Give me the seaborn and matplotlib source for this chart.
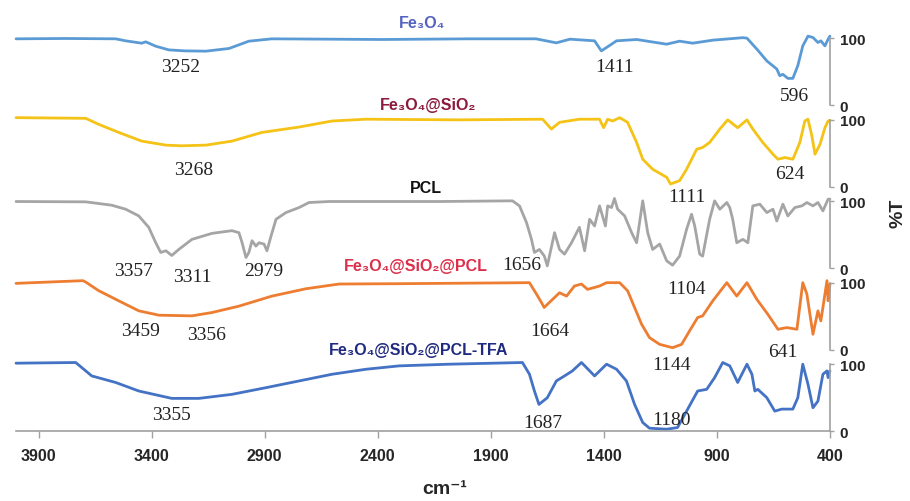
import matplotlib
matplotlib.use("Agg")

import matplotlib.pyplot as plt
import seaborn as sns

# ---------------------------------------------------------------------------
# FTIR data (wavenumber in cm-1, %T)
# ---------------------------------------------------------------------------

fe3o4_wn = [4000, 3780, 3559, 3515, 3444, 3426, 3382, 3324, 3252, 3160, 3058, 2970, 2868,
            2380, 2000, 1700, 1610, 1550, 1441, 1411, 1366, 1344, 1255, 1122, 1065, 1007,
            918, 785, 767, 723, 679, 635, 622, 608, 586, 564, 542, 520, 497, 475, 453,
            440, 422, 408, 400]
fe3o4_t = [99, 99.5, 99, 96, 92.5, 94.5, 88, 82.5, 81, 80.6, 84.6, 95.5, 99,
           98, 99, 99, 93, 98.5, 96, 81, 91, 96, 98, 91, 95.5, 92.5,
           97, 100.7, 100, 83.6, 66, 54, 44, 46, 40, 40, 59, 88.5, 103, 101, 93.5,
           96, 88.5, 98.5, 103]

sio2_wn = [4000, 3692, 3634, 3546, 3444, 3337, 3268, 3160, 3045, 2912, 2748, 2602, 2451,
           2039, 1671, 1632, 1596, 1508, 1419, 1401, 1383, 1361, 1330, 1295, 1255, 1228,
           1184, 1122, 1105, 1065, 1034, 989, 963, 932, 887, 852, 808, 767, 741, 697,
           652, 630, 599, 564, 533, 511, 497, 480, 466, 444, 422, 408, 400]
sio2_t = [103, 102, 93, 81, 68, 62, 61, 62, 68, 81, 89, 98, 100.7,
          99.7, 100.7, 86, 96, 100.7, 100.7, 88, 100.7, 98, 103, 96, 66, 41,
          26, 14, 4, 9, 26, 56, 58.5, 66, 86, 99.7, 88, 99.7, 86, 66,
          48.5, 41, 43.5, 41, 66, 98, 100.7, 76, 48.5, 63, 88, 98, 99]

pcl_wn = [4000, 3692, 3577, 3515, 3457, 3413, 3382, 3360, 3337, 3311, 3280, 3222, 3133,
          3045, 3014, 3000, 2983, 2970, 2956, 2939, 2925, 2903, 2890, 2872, 2850, 2806,
          2748, 2704, 2615, 2128, 1804, 1773, 1742, 1720, 1707, 1685, 1663, 1650, 1618,
          1596, 1574, 1543, 1508, 1485, 1463, 1441, 1419, 1393, 1383, 1366, 1353, 1339,
          1308, 1277, 1255, 1228, 1206, 1184, 1153, 1122, 1096, 1065, 1034, 1012, 998,
          976, 963, 932, 910, 887, 856, 843, 830, 812, 785, 763, 741, 710, 679, 652,
          635, 608, 586, 555, 524, 502, 475, 453, 431, 408, 400]
pcl_t = [99.5, 99, 94, 88, 78, 61, 38, 23.5, 26, 19, 28, 43, 52,
         56, 53, 38, 16, 23.5, 41, 33, 38, 36, 26, 48, 73, 83,
         90.5, 98, 99.5, 99.5, 100.5, 93, 68, 43, 23.5, 28, 18, 3.5, 53,
         28, 21, 38, 61, 26, 73, 63, 93, 63, 93, 90.5, 104, 88,
         78, 53, 38, 100.5, 53, 28, 36, 11, 4.5, 18, 58, 80.5, 63,
         21, 18, 73, 100.5, 88, 98, 90.5, 73, 38, 43, 38, 93, 95.5, 83, 88,
         70.5, 95.5, 78, 90.5, 93, 98, 93, 98, 85.5, 103, 103]

pcl_comp_wn = [4000, 3705, 3692, 3634, 3546, 3457, 3368, 3222, 3133, 3014, 2868, 2717, 2571,
               2305, 1729, 1698, 1676, 1664, 1627, 1596, 1565, 1530, 1499, 1472, 1419, 1388,
               1330, 1295, 1264, 1233, 1198, 1153, 1096, 1056, 1021, 985, 963, 918, 856,
               812, 767, 723, 675, 630, 591, 546, 520, 502, 475, 453, 440, 422, 413, 408,
               400]
pcl_comp_t = [99, 103, 101, 88, 73, 58, 51.5, 50.5, 55.5, 65, 80, 91, 98,
              98.5, 100, 83, 70.5, 63, 75, 85, 80, 95, 98, 90, 95, 100,
              100, 88, 63, 38, 18, 8, 3, 8, 28, 48, 50.5, 73, 100,
              80, 100, 75, 53, 30.5, 33, 30.5, 100, 83, 23, 58, 43, 83, 103, 73,
              98]

tfa_wn = [4000, 3736, 3665, 3559, 3457, 3311, 3191, 3045, 2894, 2748, 2602, 2451, 2305,
          2083, 1760, 1729, 1707, 1687, 1650, 1610, 1574, 1539, 1499, 1477, 1441, 1388,
          1344, 1300, 1264, 1228, 1198, 1122, 1074, 1034, 985, 945, 910, 874, 843, 808,
          767, 745, 732, 719, 679, 644, 613, 564, 542, 520, 497, 475, 453, 431, 413,
          408, 400]
tfa_t = [101.5, 102.5, 82.5, 72.7, 60, 49, 49, 55, 65, 75, 85, 92.5, 97.5,
         100, 102.5, 85, 60, 40, 50, 75, 82.5, 90, 102.5, 95, 82.5, 100,
         92.5, 75, 40, 13, 4.5, 3, 5.5, 30, 60, 62.5, 80, 102.5, 97.5, 72.7,
         100, 85, 60, 62.5, 50, 30, 33, 33, 50, 100, 70, 35, 45, 85, 90,
         80, 90]

SAMPLE_NAMES = ["Fe₃O₄", "Fe₃O₄@SiO₂", "PCL", "Fe₃O₄@SiO₂@PCL", "Fe₃O₄@SiO₂@PCL-TFA"]
LINE_COLORS = ["#5b9bd5", "#f5c216", "#a5a5a5", "#ed7d31", "#4472c4"]
NAME_COLORS = ["#5462c2", "#8b1a3c", "#111111", "#dc2f4b", "#1f2a80"]
NAME_POS = [(2203, 124), (2177, 122), (2185, 121), (2230, 125), (2221, 122)]

# peak annotations per band: (text, x in cm-1, y in band %T units)
PEAKS = [
    [("3252", 3271, 57), ("1411", 1353, 57), ("596", 555, 15)],
    [("3268", 3213, 26), ("1111", 1034, -14), ("624", 577, 19)],
    [("3357", 3479, -4), ("3311", 3222, -12), ("2979", 2903, -4),
     ("1656", 1765, 6), ("1104", 1034, -31)],
    [("3459", 3448, 28), ("3356", 3156, 22), ("1664", 1640, 28),
     ("641", 608, -2), ("1144", 1100, -22)],
    [("3355", 3311, 25), ("1687", 1671, 13), ("1180", 1100, 18)],
]

X_TICKS = [3900, 3400, 2900, 2400, 1900, 1400, 900, 400]

spectra = [(fe3o4_wn, fe3o4_t), (sio2_wn, sio2_t), (pcl_wn, pcl_t),
           (pcl_comp_wn, pcl_comp_t), (tfa_wn, tfa_t)]

# ---------------------------------------------------------------------------
# Figure
# ---------------------------------------------------------------------------

sns.set_theme(style="white")
plt.rcParams["font.family"] = ["Liberation Sans", "DejaVu Sans"]

fig, axes = plt.subplots(5, 1, figsize=(9.1, 5.02), dpi=100, sharex=True,
                         gridspec_kw=dict(hspace=0.216))
fig.subplots_adjust(left=0.0176, right=0.912, top=0.922, bottom=0.139)

axis_grey = "#a0a0a0"
for i, ax in enumerate(axes):
    wn, t = spectra[i]
    ax.patch.set_visible(False)  # let labels spill into the neighbouring band
    sns.lineplot(x=wn, y=t, ax=ax, color=LINE_COLORS[i], linewidth=2.0,
                 sort=False, estimator=None)
    for line in ax.lines:
        line.set_clip_on(False)

    ax.set_xlim(4000, 400)
    ax.set_ylim(0, 100)
    ax.set_yticks([0, 100])
    ax.yaxis.tick_right()
    ax.tick_params(axis="y", right=True, length=3, width=1, color=axis_grey, pad=4,
                   labelsize=11)
    for lab in ax.get_yticklabels():
        lab.set_fontweight("bold")
    for side in ["left", "top", "bottom"]:
        ax.spines[side].set_visible(False)
    ax.spines["right"].set_color(axis_grey)
    ax.spines["right"].set_linewidth(1.2)
    ax.set_xlabel("")
    ax.set_ylabel("")

    ax.text(NAME_POS[i][0], NAME_POS[i][1], SAMPLE_NAMES[i], color=NAME_COLORS[i],
            fontsize=11.5, fontweight="bold", ha="center", va="center", clip_on=False)
    for txt, px, py in PEAKS[i]:
        ax.text(px, py, txt, family=["Liberation Serif", "DejaVu Serif"], fontsize=14,
                color="#222222", ha="center", va="center", clip_on=False, zorder=5)

    if i < len(axes) - 1:
        ax.tick_params(axis="x", bottom=False, labelbottom=False)

bottom_ax = axes[-1]
bottom_ax.spines["bottom"].set_visible(True)
bottom_ax.spines["bottom"].set_color(axis_grey)
bottom_ax.spines["bottom"].set_linewidth(1.2)
bottom_ax.set_xticks(X_TICKS)
bottom_ax.tick_params(axis="x", bottom=True, length=5, width=1, color=axis_grey, pad=7,
                      labelsize=11.5)
for lab in bottom_ax.get_xticklabels():
    lab.set_fontweight("bold")

fig.text(0.489, 0.024, "cm⁻¹", fontsize=14, fontweight="bold", ha="center", va="center")
fig.text(0.987, 0.576, "%T", fontsize=14, fontweight="bold", rotation=90,
         ha="center", va="center")

fig.savefig("out.png", dpi=100)
